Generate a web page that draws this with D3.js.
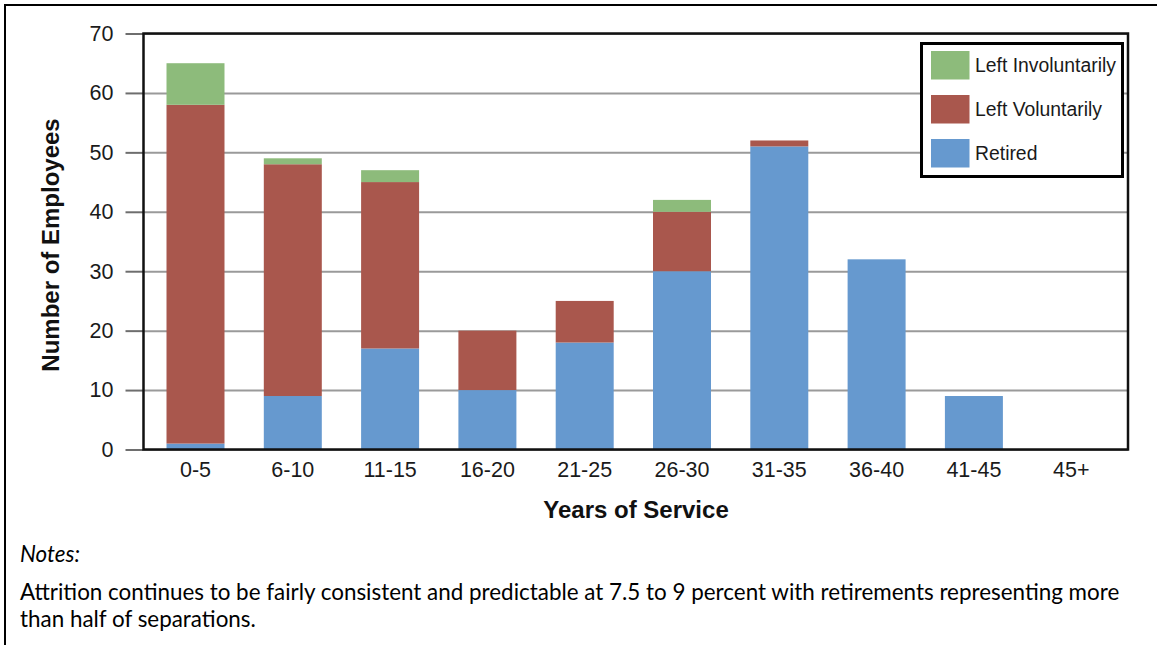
<!DOCTYPE html>
<html>
<head>
<meta charset="utf-8">
<script src="https://cdn.jsdelivr.net/npm/d3@7"></script>
<style>
  html, body { margin: 0; padding: 0; background: #fff; }
  svg { display: block; }
</style>
</head>
<body>
<svg id="chart" width="1157" height="645"></svg>
<script>
// ---- data ----
const categories = ["0-5", "6-10", "11-15", "16-20", "21-25", "26-30", "31-35", "36-40", "41-45", "45+"];
const retired            = [1, 9, 17, 10, 18, 30, 51, 32, 9, 0];
const leftVoluntarily    = [57, 39, 28, 10, 7, 10, 1, 0, 0, 0];
const leftInvoluntarily  = [7, 1, 2, 0, 0, 2, 0, 0, 0, 0];
const yTicks = [0, 10, 20, 30, 40, 50, 60, 70];
const seriesNames = ["Retired", "Left Voluntarily", "Left Involuntarily"];
const legendOrder = ["Left Involuntarily", "Left Voluntarily", "Retired"];
const colors = { "Retired": "#6699cf", "Left Voluntarily": "#a9574d", "Left Involuntarily": "#8dbb7b" };
const notesTitle = "Notes:";
const notesLines = [
  "Attrition continues to be fairly consistent and predictable at 7.5 to 9 percent with retirements representing more",
  "than half of separations."
];

// ---- layout ----
const svg = d3.select("#chart");
const FONT = "'Liberation Sans', Arial, sans-serif";
const plot = { left: 143.5, right: 1128, top: 33.5, bottom: 449.5 };
const step = 97.3, firstCenter = 195.5;
const x = d3.scaleBand()
  .domain(categories)
  .range([firstCenter - step / 2, firstCenter - step / 2 + step * categories.length])
  .paddingInner(0.404)
  .paddingOuter(0.202);
const y = d3.scaleLinear().domain([0, 70]).range([plot.bottom, plot.top]);

// outer page border (top & left)
svg.append("rect").attr("x", 5).attr("y", 5).attr("width", 1200).attr("height", 700)
  .attr("fill", "none").attr("stroke", "#000").attr("stroke-width", 2);

// gridlines
svg.append("g")
  .attr("transform", `translate(${plot.left},0)`)
  .call(d3.axisLeft(y).tickValues(yTicks).tickSize(-(plot.right - plot.left)).tickFormat(""))
  .call(g => g.select(".domain").remove())
  .call(g => g.selectAll("line").attr("stroke", "#9a9a9a").attr("stroke-width", 2));

// y axis ticks + labels
svg.append("g")
  .attr("transform", `translate(${plot.left},0)`)
  .call(d3.axisLeft(y).tickValues(yTicks).tickSize(18).tickPadding(12))
  .call(g => g.select(".domain").remove())
  .call(g => g.selectAll("line").attr("stroke", "#6e6e6e").attr("stroke-width", 2))
  .call(g => g.selectAll("text").style("font-family", FONT)
    .style("font-size", "21.5px").attr("fill", "#1a1a1a"));

// stacked bars
const table = categories.map((c, i) => ({
  cat: c,
  "Retired": retired[i],
  "Left Voluntarily": leftVoluntarily[i],
  "Left Involuntarily": leftInvoluntarily[i]
}));
const stacked = d3.stack().keys(seriesNames)(table);
svg.append("g").selectAll("g").data(stacked).join("g")
  .attr("fill", d => colors[d.key])
  .selectAll("rect").data(d => d.filter(s => s[1] - s[0] > 0)).join("rect")
  .attr("x", d => x(d.data.cat))
  .attr("width", x.bandwidth())
  .attr("y", d => y(d[1]))
  .attr("height", d => y(d[0]) - y(d[1]));

// plot frame
svg.append("rect")
  .attr("x", plot.left).attr("y", plot.top)
  .attr("width", plot.right - plot.left).attr("height", plot.bottom - plot.top)
  .attr("fill", "none").attr("stroke", "#111").attr("stroke-width", 2.5);

// x axis labels
svg.append("g")
  .attr("transform", `translate(0,${plot.bottom})`)
  .call(d3.axisBottom(x).tickSize(0).tickPadding(12))
  .call(g => g.select(".domain").remove())
  .call(g => g.selectAll("text").style("font-family", FONT)
    .style("font-size", "21.5px").attr("fill", "#1a1a1a"));

// axis titles
svg.append("text")
  .attr("x", 636).attr("y", 518)
  .attr("text-anchor", "middle")
  .style("font-family", FONT)
  .attr("font-weight", "bold").style("font-size", "24px").attr("fill", "#111")
  .text("Years of Service");
svg.append("text")
  .attr("transform", "translate(59,245) rotate(-90)")
  .attr("text-anchor", "middle")
  .style("font-family", FONT)
  .attr("font-weight", "bold").style("font-size", "24px").attr("fill", "#111")
  .text("Number of Employees");

// legend
const lg = svg.append("g");
lg.append("rect").attr("x", 921.5).attr("y", 43.5).attr("width", 201).attr("height", 133)
  .attr("fill", "#fff").attr("stroke", "#000").attr("stroke-width", 3);
const items = lg.selectAll("g.item").data(legendOrder).join("g")
  .attr("class", "item")
  .attr("transform", (d, i) => `translate(931,${51 + i * 44})`);
items.append("rect").attr("width", 38.5).attr("height", 28.5).attr("fill", d => colors[d]);
const ltext = items.append("text").attr("x", 44).attr("y", 14.5).attr("dy", "0.35em")
  .style("font-family", FONT)
  .style("font-size", "18px").attr("fill", "#1a1a1a")
  .text(d => d);
const lw = ltext.nodes()[0].getComputedTextLength();
ltext.style("font-size", (18 * 141 / lw) + "px");

// notes
const notesFont = "Lato, Carlito, 'Open Sans', sans-serif";
const title = svg.append("text").attr("x", 20).attr("y", 562)
  .style("font-family", notesFont).attr("font-style", "italic")
  .style("font-size", "18px").attr("fill", "#000").text(notesTitle);
const lines = svg.selectAll("text.note").data(notesLines).join("text")
  .attr("class", "note")
  .attr("x", 20).attr("y", (d, i) => 600 + i * 27)
  .style("font-family", notesFont).style("font-size", "18px").attr("fill", "#000")
  .text(d => d);
// fit first line width to reference (~1100px)
const w = lines.nodes()[0].getComputedTextLength();
const fs = 18 * 1100 / w;
lines.style("font-size", fs + "px");
title.style("font-size", fs + "px");
</script>
</body>
</html>
